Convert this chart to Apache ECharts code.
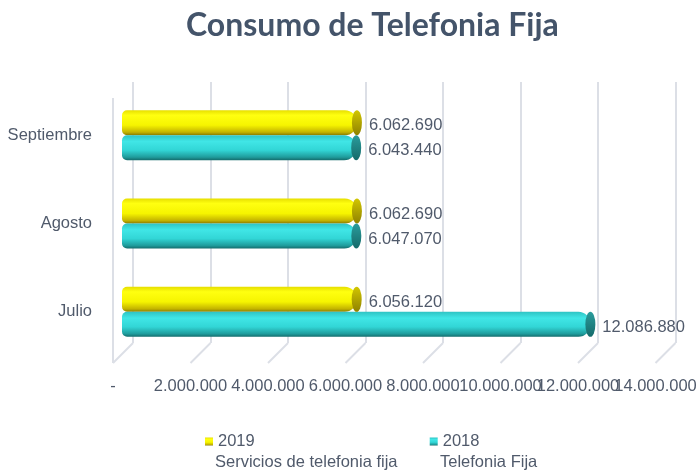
<!DOCTYPE html>
<html>
<head>
<meta charset="utf-8">
<script src="https://cdn.jsdelivr.net/npm/echarts@6/dist/echarts.min.js"></script>
<style>
  html, body { margin: 0; padding: 0; background: #fff; }
  #chart { width: 696px; height: 471px; }
</style>
</head>
<body>
<div id="chart"></div>
<script>
const months = ['Julio', 'Agosto', 'Septiembre'];
const values2019 = [6056120, 6062690, 6062690];
const values2018 = [12086880, 6047070, 6043440];
const xTicks = [0, 2000000, 4000000, 6000000, 8000000, 10000000, 12000000, 14000000];
const xTickLabels = ['-', '2.000.000', '4.000.000', '6.000.000', '8.000.000', '10.000.000', '12.000.000', '14.000.000'];

const FONT = "'Liberation Sans', Arial, sans-serif";
const FS = 16.5;
const TXT = '#505a6b';
const LAST = xTickLabels.length - 1;

const fmt = v => String(v).replace(/\B(?=(\d{3})+(?!\d))/g, '.');

const yellowGrad = new echarts.graphic.LinearGradient(0, 0, 0, 1, [
  { offset: 0, color: '#e6de00' },
  { offset: 0.2, color: '#ffff10' },
  { offset: 0.6, color: '#f6f400' },
  { offset: 0.88, color: '#c4b400' },
  { offset: 1, color: '#8a7c00' }
]);
const tealGrad = new echarts.graphic.LinearGradient(0, 0, 0, 1, [
  { offset: 0, color: '#2fc4c4' },
  { offset: 0.25, color: '#40e6e6' },
  { offset: 0.6, color: '#32d6d6' },
  { offset: 0.88, color: '#1f9c9c' },
  { offset: 1, color: '#146c6c' }
]);
const yellowCap = new echarts.graphic.LinearGradient(0, 0, 0, 1, [
  { offset: 0, color: '#d2c600' },
  { offset: 1, color: '#8f8200' }
]);
const tealCap = new echarts.graphic.LinearGradient(0, 0, 0, 1, [
  { offset: 0, color: '#2a9c9c' },
  { offset: 1, color: '#156a6a' }
]);

const chart = echarts.init(document.getElementById('chart'));

const barLabel = {
  show: true,
  position: 'right',
  distance: 12,
  offset: [0, 3],
  fontFamily: FONT,
  fontSize: FS,
  color: TXT,
  formatter: p => fmt(p.value)
};

const tickLabel = {
  margin: 22,
  showMinLabel: true,
  showMaxLabel: true,
  fontFamily: FONT,
  fontSize: FS,
  color: TXT
};

const option = {
  backgroundColor: '#fff',
  animation: false,
  title: {
    text: 'Consumo de Telefonia Fija',
    left: 181,
    top: 5,
    textStyle: { fontFamily: 'Lato', fontWeight: 'bold', fontSize: 32, color: '#44546a' }
  },
  legend: {
    data: ['2019', '2018'],
    left: 200,
    top: 428,
    icon: 'rect',
    itemWidth: 8,
    itemHeight: 8,
    itemGap: 175,
    selectedMode: false,
    textStyle: { fontFamily: FONT, fontSize: FS, color: TXT }
  },
  graphic: [
    { type: 'text', left: 215, top: 454, style: { text: 'Servicios de telefonia fija', font: FS + 'px ' + FONT, fill: TXT } },
    { type: 'text', left: 440, top: 454, style: { text: 'Telefonia Fija', font: FS + 'px ' + FONT, fill: TXT } }
  ],
  grid: [
    // bars
    { left: 122, right: 31.5, top: 91, bottom: 115, containLabel: false, outerBoundsMode: 'none' },
    // back wall gridlines
    { left: 133, right: 20.5, top: 82, bottom: 128, containLabel: false, outerBoundsMode: 'none' },
    // front edge, tick labels
    { left: 113, right: 40.5, top: 91, bottom: 115, containLabel: false, outerBoundsMode: 'none' }
  ],
  xAxis: [{
    type: 'value',
    gridIndex: 0,
    min: 0,
    max: 14000000,
    interval: 2000000,
    axisLine: { show: false },
    axisTick: { show: false },
    splitLine: { show: false },
    // only the last label here, shifted to the front edge
    axisLabel: {
      ...tickLabel,
      padding: [0, 18, 0, 0],
      formatter: (v, i) => (i === LAST ? xTickLabels[i] : '')
    }
  }, {
    type: 'value',
    gridIndex: 1,
    min: 0,
    max: 14000000,
    interval: 2000000,
    axisLine: { show: false },
    axisTick: { show: false },
    axisLabel: { show: false },
    splitLine: { show: true, lineStyle: { color: '#dcdfe6', width: 2 } }
  }, {
    type: 'value',
    gridIndex: 2,
    min: 0,
    max: 14000000,
    interval: 2000000,
    axisLine: { show: false },
    axisTick: { show: false },
    splitLine: { show: false },
    axisLabel: {
      ...tickLabel,
      formatter: (v, i) => (i === LAST ? '' : xTickLabels[i])
    }
  }],
  yAxis: [{
    type: 'category',
    gridIndex: 0,
    data: months,
    axisLine: { show: false },
    axisTick: { show: false },
    axisLabel: { margin: 30, fontFamily: FONT, fontSize: FS, color: TXT }
  }, {
    type: 'value',
    gridIndex: 1,
    min: 0,
    max: 1,
    show: false
  }, {
    type: 'value',
    gridIndex: 2,
    show: false
  }],
  series: [{
    type: 'custom',
    xAxisIndex: 1,
    yAxisIndex: 1,
    silent: true,
    z: 0,
    data: xTicks.map(v => [v, 0]),
    renderItem: (params, api) => {
      const p = api.coord([api.value(0), 0]);
      const top = api.coord([0, 1])[1];
      const style = { stroke: '#dcdfe6', lineWidth: 2 };
      const children = [{
        type: 'line',
        shape: { x1: p[0], y1: p[1], x2: p[0] - 20, y2: p[1] + 20 },
        style
      }];
      if (params.dataIndex === 0) {
        children.push({
          type: 'line',
          shape: { x1: p[0] - 20, y1: p[1] + 20, x2: p[0] - 20, y2: top + 16 },
          style
        });
      }
      return { type: 'group', children };
    }
  }, {
    name: '2019',
    type: 'bar',
    data: values2019,
    barWidth: 25,
    barGap: '0%',
    itemStyle: { color: yellowGrad, borderRadius: [5, 12, 12, 5] },
    label: barLabel,
    z: 2
  }, {
    name: '2018',
    type: 'bar',
    data: values2018,
    barWidth: 25,
    barGap: '0%',
    itemStyle: { color: tealGrad, borderRadius: [5, 12, 12, 5] },
    label: barLabel,
    z: 2
  }, {
    name: 'cap2019',
    type: 'pictorialBar',
    data: values2019,
    symbol: 'circle',
    symbolSize: [10, 25],
    symbolPosition: 'end',
    symbolOffset: ['50%', 0],
    barWidth: 25,
    barGap: '0%',
    itemStyle: { color: yellowCap },
    silent: true,
    z: 3
  }, {
    name: 'cap2018',
    type: 'pictorialBar',
    data: values2018,
    symbol: 'circle',
    symbolSize: [10, 25],
    symbolPosition: 'end',
    symbolOffset: ['50%', 0],
    barWidth: 25,
    barGap: '0%',
    itemStyle: { color: tealCap },
    silent: true,
    z: 3
  }]
};

chart.setOption(option);
</script>
</body>
</html>
